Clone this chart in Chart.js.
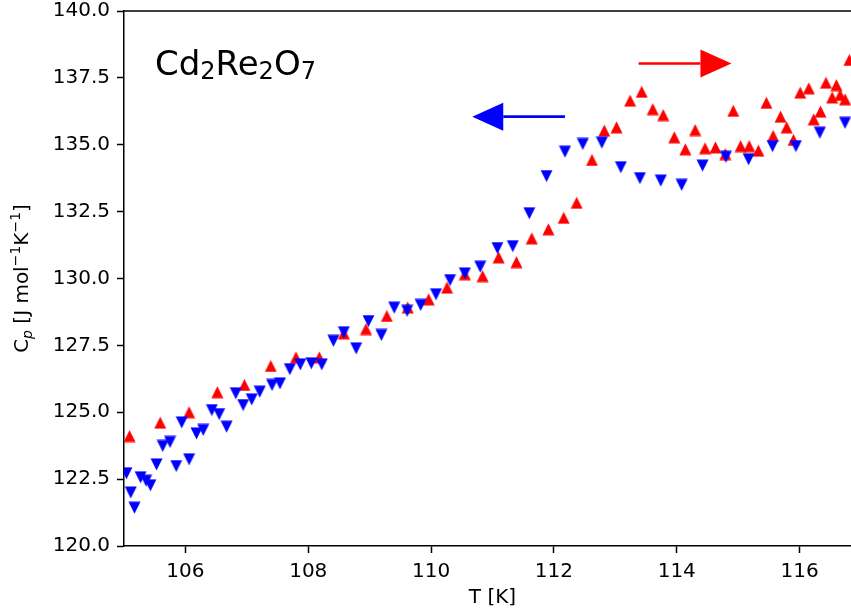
<!DOCTYPE html>
<html>
<head>
<meta charset="utf-8">
<script src="https://cdn.jsdelivr.net/npm/chart.js@4.4.0/dist/chart.umd.min.js"></script>
<style>
html, body { margin: 0; padding: 0; overflow: hidden; background: #fff; }
canvas { display: block; }
</style>
</head>
<body>
<canvas id="cpChart" width="900" height="614"></canvas>
<script>
// cooling run (blue, down triangles)
var coolT = [105.04, 105.11, 105.17, 105.27, 105.36, 105.43, 105.53, 105.63, 105.75, 105.85,
             105.94, 106.06, 106.18, 106.29, 106.43, 106.55, 106.67, 106.82, 106.94, 107.08,
             107.21, 107.41, 107.54, 107.70, 107.87, 108.05, 108.22, 108.41, 108.58, 108.78,
             108.98, 109.19, 109.40, 109.61, 109.83, 110.08, 110.31, 110.55, 110.80, 111.08,
             111.33, 111.60, 111.88, 112.18, 112.47, 112.78, 113.09, 113.40, 113.74, 114.08,
             114.42, 114.80, 115.17, 115.56, 115.94, 116.33, 116.74];
var coolCp = [122.72, 122.00, 121.43, 122.57, 122.44, 122.27, 123.05, 123.74, 123.89, 122.99,
              124.62, 123.24, 124.21, 124.34, 125.08, 124.93, 124.46, 125.71, 125.27, 125.48,
              125.77, 126.02, 126.08, 126.61, 126.79, 126.83, 126.79, 127.67, 127.99, 127.39,
              128.41, 127.89, 128.91, 128.79, 129.01, 129.41, 129.94, 130.19, 130.44, 131.14,
              131.21, 132.44, 133.83, 134.74, 135.03, 135.08, 134.16, 133.75, 133.66, 133.50,
              134.22, 134.55, 134.46, 134.95, 134.95, 135.45, 135.82];

// heating run (red, up triangles)
var heatT = [105.09, 105.59, 106.06, 106.52, 106.96, 107.39, 107.80, 108.18, 108.58, 108.94,
             109.28, 109.62, 109.96, 110.26, 110.55, 110.84, 111.10, 111.39, 111.64, 111.91,
             112.16, 112.37, 112.62, 112.82, 113.02, 113.24, 113.43, 113.61, 113.78, 113.96,
             114.14, 114.30, 114.46, 114.63, 114.79, 114.92, 115.04, 115.18, 115.33, 115.46,
             115.57, 115.69, 115.79, 115.90, 116.01, 116.15, 116.23, 116.34, 116.43, 116.53,
             116.60, 116.66, 116.74, 116.81];
var heatCp = [124.11, 124.61, 125.00, 125.75, 126.02, 126.73, 127.05, 127.05, 127.95, 128.11,
              128.60, 128.92, 129.22, 129.66, 130.16, 130.09, 130.79, 130.61, 131.50, 131.84,
              132.27, 132.83, 134.43, 135.53, 135.65, 136.65, 136.98, 136.33, 136.11, 135.28,
              134.83, 135.55, 134.87, 134.90, 134.65, 136.27, 134.95, 134.95, 134.78, 136.57,
              135.33, 136.05, 135.65, 135.18, 136.95, 137.11, 135.95, 136.24, 137.32, 136.77,
              137.23, 136.86, 136.70, 138.17];

var xTicks = [106, 108, 110, 112, 114, 116];
var yTicks = [120, 122.5, 125, 127.5, 130, 132.5, 135, 137.5, 140];

// arrows: [tail T, tip T, Cp]
var coolArrow = [112.18, 110.67, 136.05];
var heatArrow = [113.38, 114.89, 138.04];

var FONT = "DejaVu Sans";

function toPts(xs, ys) {
    return xs.map(function (x, i) { return { x: x, y: ys[i] }; });
}

function triMarker(color, down) {
    var c = document.createElement("canvas");
    c.width = 13; c.height = 13;
    var g = c.getContext("2d");
    g.fillStyle = color;
    g.beginPath();
    if (down) { g.moveTo(0.5, 0.5); g.lineTo(12.5, 0.5); g.lineTo(6.5, 12.5); }
    else { g.moveTo(6.5, 0.5); g.lineTo(12.5, 12.5); g.lineTo(0.5, 12.5); }
    g.closePath();
    g.fill();
    return c;
}

// text with sub/superscripts: [text, size, dy, italic]
function richText(ctx, parts, x, y) {
    parts.forEach(function (p) {
        ctx.font = (p[3] ? "italic " : "") + p[1] + "px '" + FONT + "'";
        ctx.fillText(p[0], x, y + p[2]);
        x += ctx.measureText(p[0]).width;
    });
}
function richWidth(ctx, parts) {
    var w = 0;
    parts.forEach(function (p) {
        ctx.font = (p[3] ? "italic " : "") + p[1] + "px '" + FONT + "'";
        w += ctx.measureText(p[0]).width;
    });
    return w;
}

function drawArrow(ctx, chart, a, color) {
    var xs = chart.scales.x, ys = chart.scales.y;
    var x0 = xs.getPixelForValue(a[0]), x1 = xs.getPixelForValue(a[1]), y = ys.getPixelForValue(a[2]);
    var dir = x1 > x0 ? 1 : -1;
    var headLen = 31, headHalf = 14;
    ctx.strokeStyle = color;
    ctx.fillStyle = color;
    ctx.lineWidth = 2.6;
    ctx.beginPath();
    ctx.moveTo(x0, y);
    ctx.lineTo(x1 - dir * headLen, y);
    ctx.stroke();
    ctx.beginPath();
    ctx.moveTo(x1, y);
    ctx.lineTo(x1 - dir * headLen, y - headHalf);
    ctx.lineTo(x1 - dir * headLen, y + headHalf);
    ctx.closePath();
    ctx.fill();
}

var extras = {
    id: "extras",
    afterDraw: function (chart) {
        var ctx = chart.ctx, area = chart.chartArea;
        ctx.save();
        // top and right spines
        ctx.strokeStyle = "#000";
        ctx.lineWidth = 1.5;
        ctx.beginPath();
        ctx.moveTo(area.left, area.top);
        ctx.lineTo(area.right, area.top);
        ctx.lineTo(area.right, area.bottom);
        ctx.stroke();

        drawArrow(ctx, chart, coolArrow, "#0000ff");
        drawArrow(ctx, chart, heatArrow, "#ff0000");

        ctx.fillStyle = "#000";
        ctx.textBaseline = "alphabetic";
        ctx.textAlign = "left";
        // compound label
        richText(ctx, [["Cd", 34, 0], ["2", 24, 4], ["Re", 34, 0], ["2", 24, 4], ["O", 34, 0], ["7", 24, 4]], 155, 75);

        // y axis label
        var yl = [["C", 20, 0], ["p", 14, 4, true], [" [J mol", 20, 0], ["\u22121", 14, -8],
                  ["K", 20, 0], ["\u22121", 14, -8], ["]", 20, 0]];
        ctx.translate(28, (area.top + area.bottom) / 2);
        ctx.rotate(-Math.PI / 2);
        richText(ctx, yl, -richWidth(ctx, yl) / 2, 0);
        ctx.restore();
    }
};

new Chart(document.getElementById("cpChart"), {
    type: "scatter",
    data: {
        datasets: [
            { data: toPts(coolT, coolCp), pointStyle: triMarker("#0000ff", true), order: 0 },
            { data: toPts(heatT, heatCp), pointStyle: triMarker("#ff0000", false), order: 1 }
        ]
    },
    options: {
        responsive: false,
        animation: false,
        layout: { padding: { top: 11, right: 39, left: 0, bottom: 0 } },
        plugins: { legend: { display: false }, tooltip: { enabled: false } },
        scales: {
            x: {
                type: "linear", min: 105, max: 117,
                afterBuildTicks: function (s) { s.ticks = xTicks.map(function (v) { return { value: v }; }); },
                afterFit: function (s) { s.height = 68; s.paddingLeft = 0; s.paddingRight = 0; },
                ticks: { font: { family: FONT, size: 20 }, color: "#000", padding: 7, autoSkip: false, maxRotation: 0 },
                grid: { drawOnChartArea: false, tickLength: 7, tickColor: "#000", tickWidth: 1.5 },
                border: { color: "#000", width: 1.5 },
                title: { display: true, text: "T [K]", color: "#000", font: { family: FONT, size: 20 }, padding: { top: 0, bottom: 4 } }
            },
            y: {
                type: "linear", min: 120, max: 140,
                afterBuildTicks: function (s) { s.ticks = yTicks.map(function (v) { return { value: v }; }); },
                afterFit: function (s) { s.width = 124; s.paddingTop = 0; s.paddingBottom = 0; },
                ticks: { font: { family: FONT, size: 20 }, color: "#000", padding: 7,
                         callback: function (v) { return v.toFixed(1); } },
                grid: { drawOnChartArea: false, tickLength: 7, tickColor: "#000", tickWidth: 1.5 },
                border: { color: "#000", width: 1.5 }
            }
        }
    },
    plugins: [extras]
});
</script>
</body>
</html>
